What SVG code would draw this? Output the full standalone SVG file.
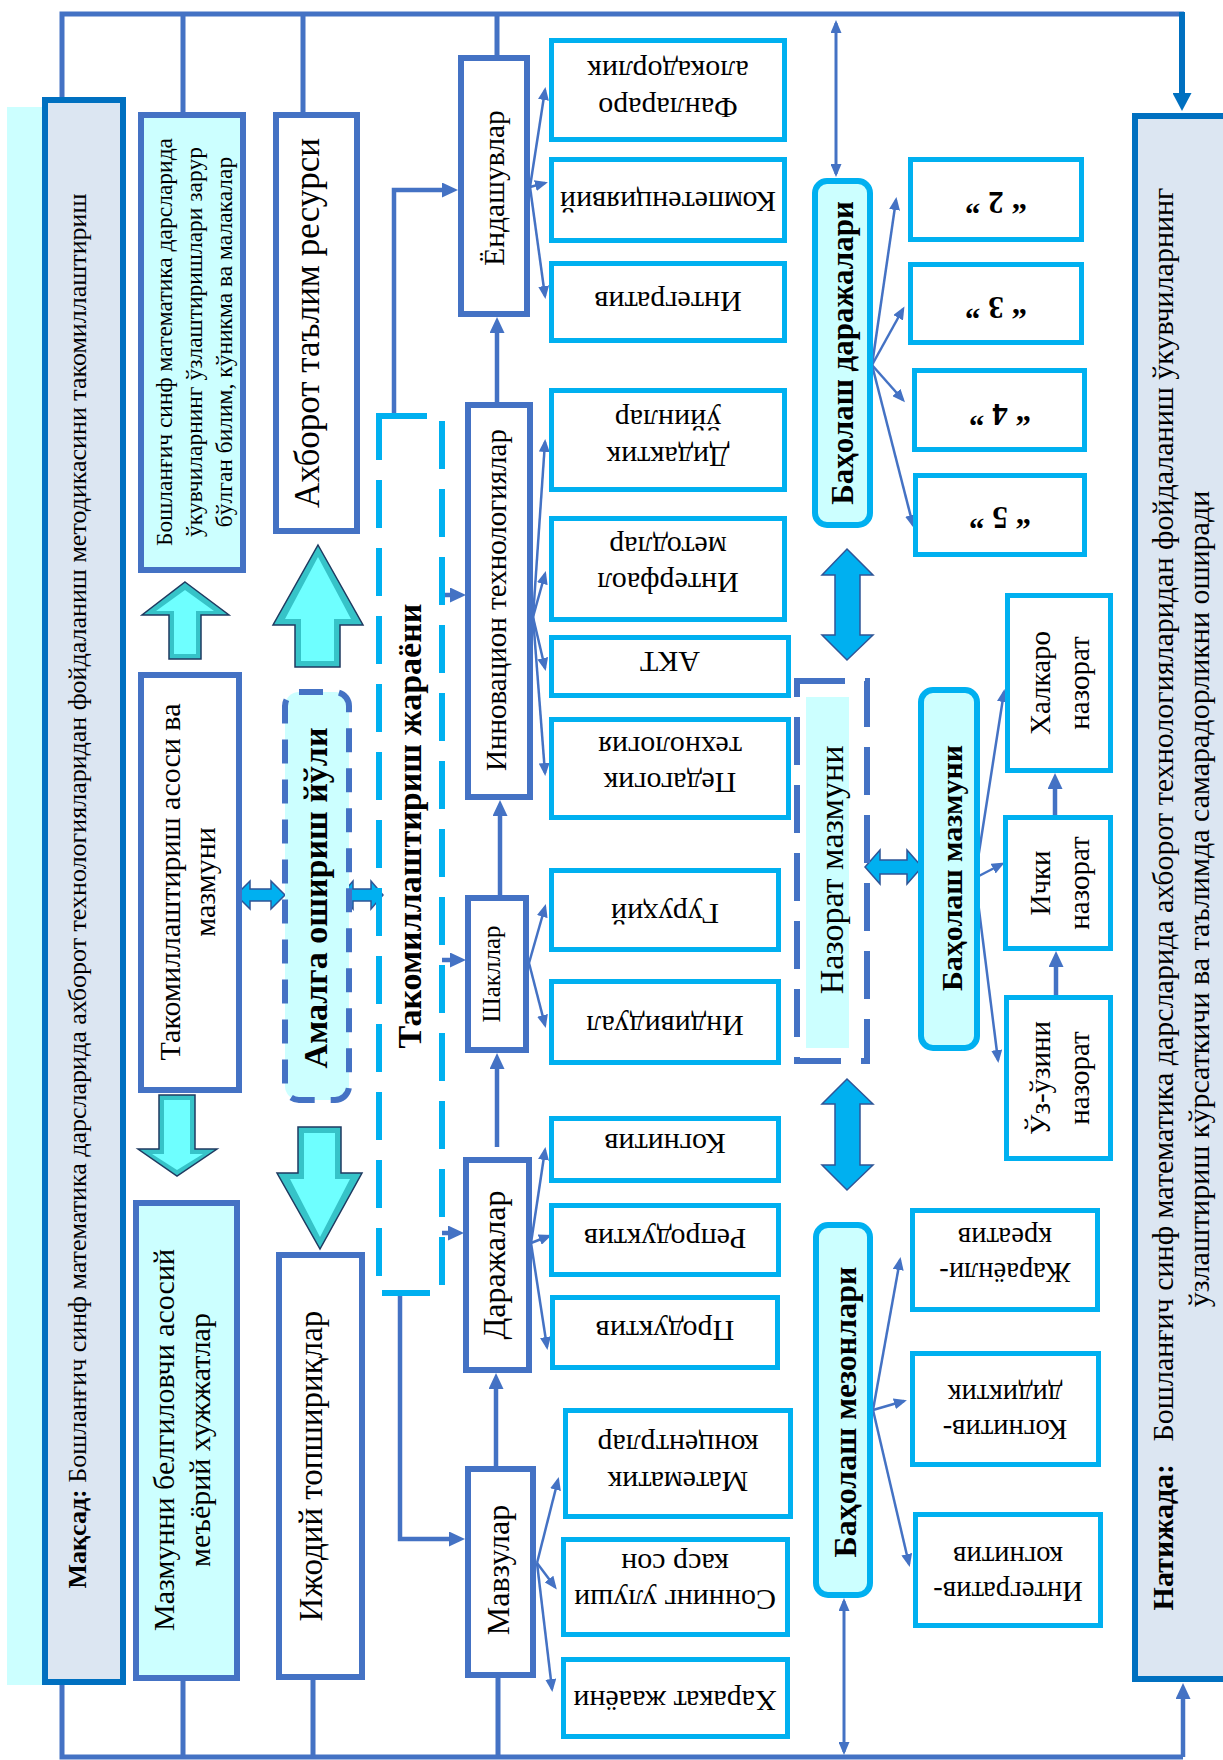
<svg xmlns="http://www.w3.org/2000/svg" width="1223" height="1760" viewBox="0 0 1223 1760">
<defs>
<style>
text{font-family:"Liberation Serif","Times New Roman",serif;fill:#000;text-anchor:middle}
.b{font-weight:bold}
.node{fill:#fff;stroke:#4472C4;stroke-width:6}
.nodec{fill:#CCFFFF;stroke:#4472C4;stroke-width:6}
.goal{fill:#DCE6F2;stroke:#0070C0;stroke-width:6}
.sub{fill:#fff;stroke:#00B0F0;stroke-width:5}
.rnd{fill:#CCFFFF;stroke:#00B0F0;stroke-width:6}
.ln{fill:none;stroke:#4472C4;stroke-width:5}
.thin{fill:none;stroke:#4472C4;stroke-width:2.5;marker-end:url(#ah)}
.mid{fill:none;stroke:#4472C4;stroke-width:4.5;marker-end:url(#ahM)}
.dthin{fill:none;stroke:#4472C4;stroke-width:3;marker-end:url(#ah);marker-start:url(#ah)}
.b3o{fill:#36C3C8;stroke:#1F3A60;stroke-width:1.5}
.b3i{fill:#6EFFFF}
.dbl{fill:#00B0F0;stroke:#2F5597;stroke-width:1.5}
</style>
<marker id="ah" markerUnits="userSpaceOnUse" markerWidth="13" markerHeight="11" viewBox="0 0 13 11" refX="10" refY="5.5" orient="auto-start-reverse"><path d="M0,0 L13,5.5 L0,11 z" fill="#4472C4"/></marker>
<marker id="ahM" markerUnits="userSpaceOnUse" markerWidth="16" markerHeight="15" viewBox="0 0 16 15" refX="0" refY="7.5" orient="auto"><path d="M0,0 L16,7.5 L0,15 z" fill="#4472C4"/></marker>
<marker id="ahD" markerUnits="userSpaceOnUse" markerWidth="18" markerHeight="19" viewBox="0 0 18 19" refX="0" refY="9.5" orient="auto"><path d="M0,0 L18,9.5 L0,19 z" fill="#0070C0"/></marker>
</defs>
<rect width="1223" height="1760" fill="#fff"/>
<rect x="7" y="107" width="40" height="1578" fill="#CCFFFF"/>

<g id="connectors">
<path class="ln" d="M62,97 V14 H1184"/>
<path class="ln" d="M183,14 V112 M303,14 V112 M497,14 V55"/>
<path d="M1182,12 V93" fill="none" stroke="#0070C0" stroke-width="6" marker-end="url(#ahD)"/>
<path class="ln" d="M62,1685 V1757 H1183 M183,1681 V1757 M313,1680 V1757 M498,1678 V1757"/>
<path class="mid" d="M1183,1757 V1699"/>
<path class="dthin" d="M836,23 V174"/>
<path class="dthin" d="M844,1601 V1752"/>
<path class="mid" d="M394,413 V190 H442"/>
<path class="mid" d="M400,1296 V1539 H449"/>
<path class="mid" d="M442,595 H450"/>
<path class="mid" d="M442,960 H450"/>
<path class="mid" d="M442,1233 H448"/>
<path class="mid" d="M497,402 V333"/>
<path class="mid" d="M500,895 V816"/>
<path class="mid" d="M497,1147 V1069"/>
<path class="mid" d="M496,1466 V1389"/>
<path class="mid" d="M1055,815 V789"/>
<path class="mid" d="M1056,995 V967"/>
<path class="thin" d="M530,187 L545,90"/>
<path class="thin" d="M530,187 L545,183"/>
<path class="thin" d="M530,187 L545,296"/>
<path class="thin" d="M533,617 L545,442"/>
<path class="thin" d="M533,617 L545,574"/>
<path class="thin" d="M533,617 L545,668"/>
<path class="thin" d="M533,617 L545,773"/>
<path class="thin" d="M529,963 L545,907"/>
<path class="thin" d="M529,963 L545,1025"/>
<path class="thin" d="M531,1243 L545,1150"/>
<path class="thin" d="M531,1243 L549,1236"/>
<path class="thin" d="M531,1243 L547,1347"/>
<path class="thin" d="M537,1563 L558,1480"/>
<path class="thin" d="M537,1563 L555,1587"/>
<path class="thin" d="M537,1563 L552,1689"/>
<path class="thin" d="M872,365 L896,200"/>
<path class="thin" d="M872,365 L903,309"/>
<path class="thin" d="M872,365 L903,400"/>
<path class="thin" d="M872,365 L913,525"/>
<path class="thin" d="M975,878 L1004,692"/>
<path class="thin" d="M975,878 L1002,864"/>
<path class="thin" d="M975,878 L998,1060"/>
<path class="thin" d="M873,1410 L900,1260"/>
<path class="thin" d="M873,1410 L904,1401"/>
<path class="thin" d="M873,1410 L909,1564"/>
<polygon class="dbl" points="236,895 250,881 250,889 271,889 271,881 285,895 271,909 271,901 250,901 250,909"/>
<polygon class="dbl" points="341,895 353,881 353,889 371,889 371,881 383,895 371,909 371,901 353,901 353,909"/>
<polygon class="dbl" points="865,867 880,850 880,860 907,860 907,850 922,867 907,884 907,874 880,874 880,884"/>
<polygon class="dbl" points="847,549 873,575 860,575 860,635 873,635 847,660 822,635 835,635 835,575 822,575"/>
<polygon class="dbl" points="847,1079 873,1104 860,1104 860,1165 873,1165 847,1190 822,1165 835,1165 835,1104 822,1104"/>
<polygon class="b3o" points="185,582 229,615 201,615 201,659 169,659 169,615 142,615"/>
<polygon class="b3i" points="185,590 214,611 196,611 196,654 174,654 174,611 156,611"/>
<polygon class="b3o" points="318,545 363,625 340,625 340,667 295,667 295,625 273,625"/>
<polygon class="b3i" points="318,557 351,619 334,619 334,661 301,661 301,619 285,619"/>
<polygon class="b3o" points="159,1095 195,1095 195,1149 217,1149 177,1176 138,1149 159,1149"/>
<polygon class="b3i" points="164,1100 190,1100 190,1154 203,1154 177,1170 152,1154 164,1154"/>
<polygon class="b3o" points="298,1127 341,1127 341,1173 362,1173 320,1249 277,1173 298,1173"/>
<polygon class="b3i" points="304,1133 335,1133 335,1179 350,1179 320,1237 290,1179 304,1179"/>
</g>

<g id="maqsad">
<rect class="goal" x="45" y="100" width="78" height="1582"/>
<text font-size="26" transform="translate(0,891) rotate(-90)"><tspan x="0" y="86"><tspan class="b">Мақсад:</tspan> Бошланғич синф математика дарсларида ахборот технологияларидан фойдаланиш методикасини такомиллаштириш</tspan></text>
</g>
<g id="bilim">
<rect class="nodec" x="141" y="115" width="102" height="455"/>
<text font-size="23.5" transform="translate(0,342) rotate(-90)"><tspan x="0" y="172">Бошланғич синф математика дарсларида</tspan><tspan x="0" y="202">ўкувчиларнинг ўзлаштиришлари зарур</tspan><tspan x="0" y="232">бўлган билим, кўникма ва малакалар</tspan></text>
</g>
<g id="resurs">
<rect class="node" x="276" y="115" width="81" height="416"/>
<text font-size="35" transform="translate(0,323) rotate(-90)"><tspan x="0" y="319">Ахборот таълим ресурси</tspan></text>
</g>
<g id="asos">
<rect class="node" x="141" y="675" width="98" height="415"/>
<text font-size="30" transform="translate(0,882) rotate(-90)"><tspan x="0" y="180">Такомиллаштириш асоси ва</tspan><tspan x="0" y="215">мазмуни</tspan></text>
</g>
<g id="hujjat">
<rect class="nodec" x="136" y="1203" width="101" height="475"/>
<text font-size="30" transform="translate(0,1440) rotate(-90)"><tspan x="0" y="174">Мазмунни белгиловчи асосий</tspan><tspan x="0" y="210">меъёрий хужжатлар</tspan></text>
</g>
<g id="ijodiy">
<rect class="node" x="279" y="1255" width="83" height="422"/>
<text font-size="33" transform="translate(0,1466) rotate(-90)"><tspan x="0" y="322">Ижодий топшириқлар</tspan></text>
</g>
<g id="amalga">
<rect x="285" y="692" width="64" height="408" rx="14" fill="#CCFFFF" stroke="#4472C4" stroke-width="6" stroke-dasharray="24 16"/>
<text class="b" font-size="34" transform="translate(0,898) rotate(-90)"><tspan x="0" y="327">Амалга ошириш йўли</tspan></text>
</g>
<g id="jarayon">
<rect x="379" y="416" width="63" height="877" fill="none" stroke="#00B0F0" stroke-width="6" stroke-dasharray="48 20"/>
<text class="b" font-size="34" transform="translate(0,826) rotate(-90)"><tspan x="0" y="421">Такомиллаштириш жараёни</tspan></text>
</g>

<g id="yondashuv">
<rect class="node" x="461" y="58" width="66" height="256"/>
<text font-size="29.5" transform="translate(0,188) rotate(-90)"><tspan x="0" y="504">Ёндашувлар</tspan></text>
</g>
<g id="innovatsion">
<rect class="node" x="468" y="405" width="62" height="392"/>
<text font-size="29" transform="translate(0,600) rotate(-90)"><tspan x="0" y="506">Инновацион технологиялар</tspan></text>
</g>
<g id="shakl">
<rect class="node" x="468" y="898" width="58" height="152"/>
<text font-size="25" transform="translate(0,974) rotate(-90)"><tspan x="0" y="500">Шакллар</tspan></text>
</g>
<g id="daraja">
<rect class="node" x="466" y="1160" width="63" height="210"/>
<text font-size="32" transform="translate(0,1265) rotate(-90)"><tspan x="0" y="505">Даражалар</tspan></text>
</g>
<g id="mavzu">
<rect class="node" x="468" y="1469" width="65" height="206"/>
<text font-size="32" transform="translate(0,1570) rotate(-90)"><tspan x="0" y="509">Мавзулар</tspan></text>
</g>

<g font-size="30">
<g id="fanlararo"><rect class="sub" x="551.5" y="40.5" width="233" height="99"/>
<text transform="translate(668,0) rotate(180)"><tspan x="0" y="-98">Фанлараро</tspan><tspan x="0" y="-61">алокадорлик</tspan></text></g>
<g id="kompetens"><rect class="sub" x="551.5" y="159.5" width="233" height="81"/>
<text transform="translate(668,0) rotate(180)"><tspan x="0" y="-192">Компетенциявий</tspan></text></g>
<g id="integrativ"><rect class="sub" x="551.5" y="263.5" width="233" height="77"/>
<text transform="translate(668,0) rotate(180)"><tspan x="0" y="-292">Интегратив</tspan></text></g>
<g id="didaktik"><rect class="sub" x="551.5" y="390.5" width="233" height="99"/>
<text transform="translate(668,0) rotate(180)"><tspan x="0" y="-447">Дидактик</tspan><tspan x="0" y="-410">ўйинлар</tspan></text></g>
<g id="interfaol"><rect class="sub" x="551.5" y="518.5" width="233" height="101"/>
<text transform="translate(668,0) rotate(180)"><tspan x="0" y="-573">Интерфаол</tspan><tspan x="0" y="-537">методлар</tspan></text></g>
<g id="akt"><rect class="sub" x="551.5" y="637.5" width="237" height="58"/>
<text transform="translate(670,0) rotate(180)"><tspan x="0" y="-652">АКТ</tspan></text></g>
<g id="pedagogik"><rect class="sub" x="551.5" y="719.5" width="237" height="98"/>
<text transform="translate(670,0) rotate(180)"><tspan x="0" y="-773">Педагогик</tspan><tspan x="0" y="-737">технология</tspan></text></g>
<g id="guruhiy"><rect class="sub" x="551.5" y="870.5" width="227" height="79"/>
<text transform="translate(665,0) rotate(180)"><tspan x="0" y="-904">Гуруҳий</tspan></text></g>
<g id="individual"><rect class="sub" x="551.5" y="981.5" width="227" height="81"/>
<text transform="translate(665,0) rotate(180)"><tspan x="0" y="-1016">Индивидуал</tspan></text></g>
<g id="kognitiv"><rect class="sub" x="551.5" y="1118.5" width="227" height="62"/>
<text transform="translate(665,0) rotate(180)"><tspan x="0" y="-1134">Когнитив</tspan></text></g>
<g id="reproduktiv"><rect class="sub" x="551.5" y="1205.5" width="227" height="69"/>
<text transform="translate(665,0) rotate(180)"><tspan x="0" y="-1229">Репродуктив</tspan></text></g>
<g id="produktiv"><rect class="sub" x="552.5" y="1297.5" width="225" height="70"/>
<text transform="translate(665,0) rotate(180)"><tspan x="0" y="-1321">Продуктив</tspan></text></g>
<g id="matematik"><rect class="sub" x="565.5" y="1410.5" width="225" height="106"/>
<text transform="translate(678,0) rotate(180)"><tspan x="0" y="-1472">Математик</tspan><tspan x="0" y="-1435">концентрлар</tspan></text></g>
<g id="sonning"><rect class="sub" x="563.5" y="1539.5" width="224" height="95"/>
<text transform="translate(675,0) rotate(180)"><tspan x="0" y="-1590">Соннинг улуши</tspan><tspan x="0" y="-1554">каср сон</tspan></text></g>
<g id="harakat"><rect class="sub" x="563.5" y="1659.5" width="224" height="77"/>
<text transform="translate(675,0) rotate(180)"><tspan x="0" y="-1691">Харакат жааёни</tspan></text></g>
</g>

<g id="bah-daraja">
<rect class="rnd" x="815" y="181" width="55" height="344" rx="12"/>
<text class="b" font-size="31" transform="translate(0,353) rotate(-90)"><tspan x="0" y="853">Баҳолаш даражалари</tspan></text>
</g>
<g class="b" font-size="31">
<g id="baho2"><rect class="sub" x="910.5" y="159.5" width="171" height="80"/>
<text transform="translate(996,0) rotate(180)"><tspan x="0" y="-192">“ 2 ”</tspan></text></g>
<g id="baho3"><rect class="sub" x="910.5" y="264.5" width="171" height="78"/>
<text transform="translate(996,0) rotate(180)"><tspan x="0" y="-297">“ 3 ”</tspan></text></g>
<g id="baho4"><rect class="sub" x="914.5" y="370.5" width="170" height="79"/>
<text transform="translate(1000,0) rotate(180)"><tspan x="0" y="-404">“ 4 ”</tspan></text></g>
<g id="baho5"><rect class="sub" x="915.5" y="475.5" width="169" height="79"/>
<text transform="translate(1000,0) rotate(180)"><tspan x="0" y="-507">“ 5 ”</tspan></text></g>
</g>
<g id="nazorat">
<rect x="806" y="697" width="43" height="351" fill="#CCFFFF"/>
<rect x="797" y="681" width="70" height="380" fill="none" stroke="#4472C4" stroke-width="6" stroke-dasharray="48 20"/>
<text font-size="34" transform="translate(0,870) rotate(-90)"><tspan x="0" y="843">Назорат мазмуни</tspan></text>
</g>
<g id="bah-mazmun">
<rect class="rnd" x="921" y="690" width="56" height="358" rx="12"/>
<text class="b" font-size="30" transform="translate(0,868) rotate(-90)"><tspan x="0" y="962">Баҳолаш мазмуни</tspan></text>
</g>
<g font-size="29">
<g id="halqaro"><rect class="sub" x="1007.5" y="595.5" width="103" height="175"/>
<text transform="translate(0,683) rotate(-90)"><tspan x="0" y="1050">Халкаро</tspan><tspan x="0" y="1089">назорат</tspan></text></g>
<g id="ichki"><rect class="sub" x="1005.5" y="817.5" width="105" height="131"/>
<text transform="translate(0,883) rotate(-90)"><tspan x="0" y="1050">Ички</tspan><tspan x="0" y="1089">назорат</tspan></text></g>
<g id="uz"><rect class="sub" x="1006.5" y="997.5" width="104" height="161"/>
<text transform="translate(0,1078) rotate(-90)"><tspan x="0" y="1050">Ўз-ўзини</tspan><tspan x="0" y="1089">назорат</tspan></text></g>
</g>
<g id="bah-mezon">
<rect class="rnd" x="816" y="1225" width="54" height="370" rx="12"/>
<text class="b" font-size="32" transform="translate(0,1412) rotate(-90)"><tspan x="0" y="856">Баҳолаш мезонлари</tspan></text>
</g>
<g font-size="28.5">
<g id="jarayonli"><rect class="sub" x="912.5" y="1210.5" width="185" height="99"/>
<text transform="translate(1005,0) rotate(180)"><tspan x="0" y="-1263">Жараёнли-</tspan><tspan x="0" y="-1228">креатив</tspan></text></g>
<g id="kog-did"><rect class="sub" x="912.5" y="1353.5" width="186" height="111"/>
<text transform="translate(1005,0) rotate(180)"><tspan x="0" y="-1420">Когнитив-</tspan><tspan x="0" y="-1385">дидиктик</tspan></text></g>
<g id="int-kog"><rect class="sub" x="915.5" y="1514.5" width="185" height="111"/>
<text transform="translate(1008,0) rotate(180)"><tspan x="0" y="-1582">Интегратив-</tspan><tspan x="0" y="-1547">когнитив</tspan></text></g>
</g>
<g id="natija">
<rect class="goal" x="1135" y="116" width="100" height="1563"/>
<text font-size="30" transform="translate(0,899) rotate(-90)"><tspan x="0" y="1173"><tspan class="b">Натижада:</tspan>&#160;&#160; Бошланғич синф математика дарсларида ахборот технологияларидан фойдаланиш ўкувчиларнинг</tspan><tspan x="0" y="1209">ўзлаштириш кўрсаткичи ва таълимда самарадорликни оширади</tspan></text>
</g>
</svg>
